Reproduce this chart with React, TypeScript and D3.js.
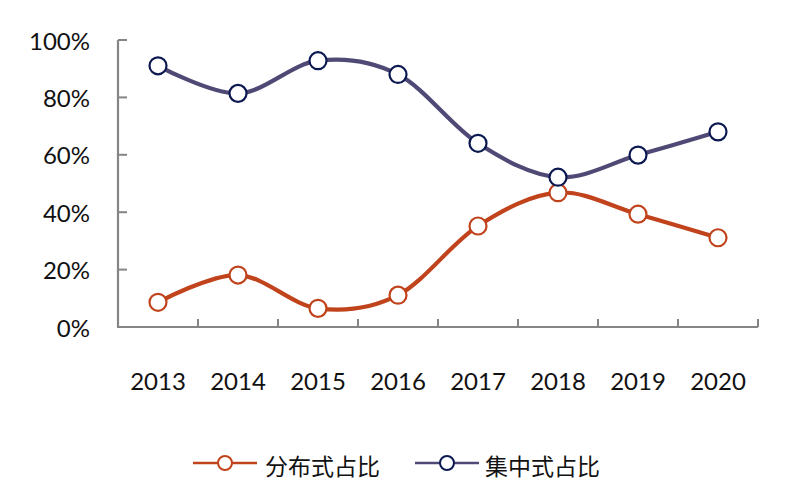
import React from "react";
import * as d3 from "d3";

const years = ["2013", "2014", "2015", "2016", "2017", "2018", "2019", "2020"];
const distributed = [8.6, 18.1, 6.5, 11.1, 35.2, 46.8, 39.3, 31.1];
const centralized = [91.0, 81.4, 92.8, 88.0, 64.0, 52.2, 59.9, 68.0];
const yTicks = [0, 20, 40, 60, 80, 100];
const seriesNames = ["分布式占比", "集中式占比"];

const W = 800;
const H = 498;
const FONT = "'Noto Sans CJK SC', 'Noto Sans', sans-serif";
const NUM_FONT = "Lato, 'Noto Sans', sans-serif";

export default function App() {
  const x = d3.scaleBand<string>().domain(years).range([118, 758]);
  const y = d3.scaleLinear().domain([0, 100]).range([327, 40]);
  const cx = (d: string) => (x(d) as number) + x.bandwidth() / 2;

  const line = d3
    .line<number>()
    .x((_, i) => cx(years[i]))
    .y((v) => y(v))
    .curve(d3.curveCatmullRom.alpha(0));

  const series = [
    { name: seriesNames[0], data: distributed, line: "#C1431C", marker: "#C1431C" },
    { name: seriesNames[1], data: centralized, line: "#4F4A75", marker: "#0C1850" },
  ];

  const boundaries = years.map((d) => x(d) as number).concat([x.range()[1]]);
  const axisColor = "#858585";

  const legendItems = [
    { lx: 193, cxm: 225, tx: 265 },
    { lx: 415, cxm: 447, tx: 485 },
  ];
  const legendY = 463;

  return (
    <svg
      width={W}
      height={H}
      style={{ position: "absolute", left: 0, top: 0, background: "#fff" }}
      fontFamily={FONT}
    >
      <rect width={W} height={H} fill="#fff" />
      {/* axes */}
      <line x1={118} x2={118} y1={y(100)} y2={y(0)} stroke={axisColor} strokeWidth={2.2} />
      <line x1={117} x2={x.range()[1]} y1={y(0)} y2={y(0)} stroke={axisColor} strokeWidth={2.2} />
      {yTicks.map((t) => (
        <g key={t}>
          <line x1={118} x2={127} y1={y(t)} y2={y(t)} stroke={axisColor} strokeWidth={2} />
          <text
            x={90}
            y={y(t)}
            textAnchor="end"
            dominantBaseline="central"
            fontSize={24}
            fontFamily={NUM_FONT}
            fill="#111"
          >
            {t}%
          </text>
        </g>
      ))}
      {boundaries.map((b, i) => (
        <line key={i} x1={b} x2={b} y1={y(0)} y2={y(0) - 8} stroke={axisColor} strokeWidth={2} />
      ))}
      {years.map((d) => (
        <text
          key={d}
          x={cx(d)}
          y={380}
          textAnchor="middle"
          dominantBaseline="central"
          fontSize={24}
          fontFamily={NUM_FONT}
          fill="#111"
        >
          {d}
        </text>
      ))}
      {/* series */}
      {series.map((s) => (
        <g key={s.name}>
          <path d={line(s.data) || ""} fill="none" stroke={s.line} strokeWidth={4.2} />
        </g>
      ))}
      {series.map((s) => (
        <g key={s.name + "m"}>
          {s.data.map((v, i) => (
            <circle
              key={i}
              cx={cx(years[i])}
              cy={y(v)}
              r={8.5}
              fill="#fff"
              stroke={s.marker}
              strokeWidth={2.2}
            />
          ))}
        </g>
      ))}
      {/* legend */}
      {series.map((s, i) => {
        const l = legendItems[i];
        return (
          <g key={s.name + "l"}>
            <line x1={l.lx} x2={l.lx + 64} y1={legendY} y2={legendY} stroke={s.line} strokeWidth={2.5} />
            <circle cx={l.cxm} cy={legendY} r={7} fill="#fff" stroke={s.marker} strokeWidth={2} />
            <text x={l.tx} y={legendY + 2} dominantBaseline="central" fontSize={23} fill="#111">
              {s.name}
            </text>
          </g>
        );
      })}
    </svg>
  );
}
